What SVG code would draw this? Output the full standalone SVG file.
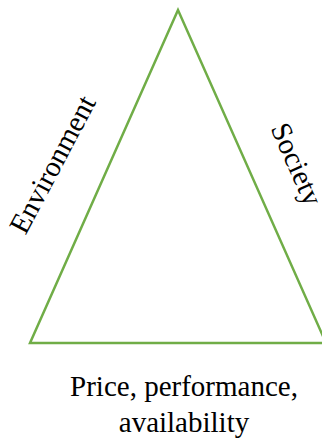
<svg xmlns="http://www.w3.org/2000/svg" width="322" height="438" viewBox="0 0 322 438">
<style>
.lbl{font-family:"Liberation Serif","Times New Roman",serif;font-size:29px;fill:#000;text-anchor:middle}
</style>
<rect width="322" height="438" fill="#fff"/>
<g id="triangle">
<polygon points="178,10 30,343 326,343" fill="none" stroke="#70AD47" stroke-width="2.5"/>
</g>
<g id="environment"><text class="lbl" transform="translate(61,169) rotate(-62)">Environment</text></g>
<g id="society"><text class="lbl" transform="translate(288,168) rotate(66)">Society</text></g>
<g id="price">
<text class="lbl" x="184" y="396">Price, performance,</text>
<text class="lbl" x="184" y="432">availability</text>
</g>
</svg>
